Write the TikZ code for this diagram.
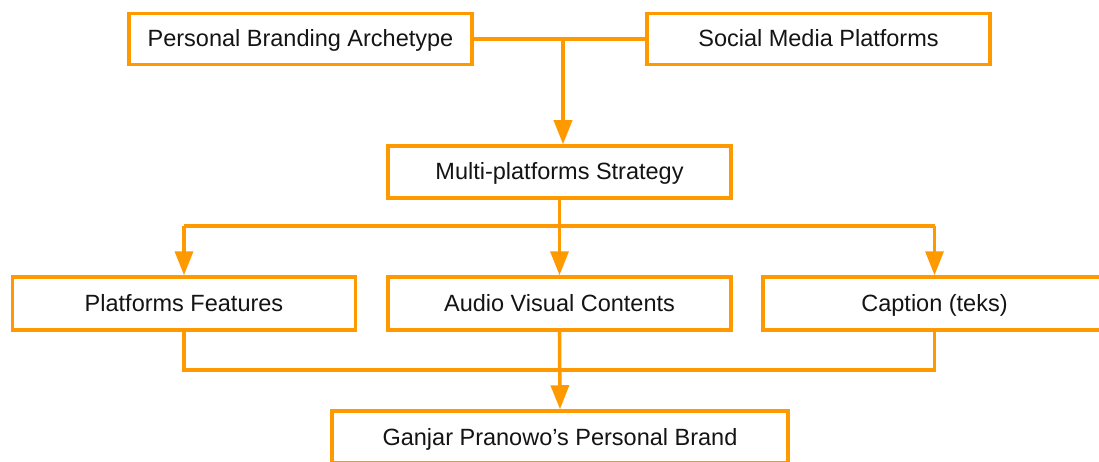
\documentclass[tikz,border=0pt]{standalone}
\usepackage{fontspec}
\setmainfont{Liberation Sans}
\usetikzlibrary{arrows.meta}
\definecolor{brandorange}{RGB}{255,153,0}
\definecolor{textdark}{RGB}{20,20,20}
\begin{document}
\begin{tikzpicture}[x=1pt,y=-1pt,
  box/.style={draw=brandorange, line width=3.5pt, fill=white, minimum width=343pt, minimum height=51pt,
    inner sep=0pt, text height=17pt, text depth=1pt, text=textdark, font=\fontsize{23.5}{28}\selectfont},
  conn/.style={draw=brandorange, line width=3.5pt},
  arr/.style={conn, -{Triangle[length=24pt,width=18pt]}}]
\useasboundingbox (0,0) rectangle (1099,462);
\fill[white] (0,0) rectangle (1099,462);
\node[box] (pba) at (300.5,39) {Personal Branding Archetype};
\node[box] (smp) at (818.5,39) {Social Media Platforms};
\node[box, minimum height=52pt] (mps) at (559.5,172) {Multi-platforms Strategy};
\node[box, minimum height=53pt] (pf) at (184,303.5) {Platforms Features};
\node[box, minimum height=53pt] (avc) at (559.5,303.5) {Audio Visual Contents};
\node[box, minimum height=53pt] (cap) at (934.5,303.5) {Caption (teks)};
\node[box, minimum width=456pt, minimum height=52pt] (gpb) at (560,437) {Ganjar Pranowo’s Personal Brand};
\coordinate (j1) at (563,39);
\coordinate (j2) at (559.5,226);
\coordinate (j3) at (559.5,370);
\draw[conn] (pba.east) -- (smp.west);
\draw[arr] (j1) -- (j1 |- mps.north);
\draw[conn] (mps.south) -- (j2);
\draw[conn] (j2 -| pf.north) -- (j2 -| cap.north);
\draw[arr] (j2 -| pf.north) -- (pf.north);
\draw[arr] (j2) -- (avc.north);
\draw[arr] (j2 -| cap.north) -- (cap.north);
\draw[conn] (pf.south) -- (j3 -| pf.south) -- (j3 -| cap.south) -- (cap.south);
\draw[arr] (avc.south) -- (gpb.north);
\end{tikzpicture}
\end{document}
